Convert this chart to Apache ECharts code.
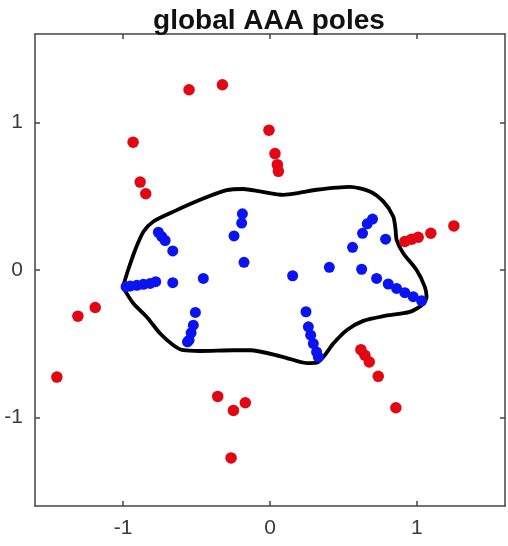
<!DOCTYPE html>
<html>
<head>
<meta charset="utf-8">
<script src="https://cdn.jsdelivr.net/npm/echarts@6/dist/echarts.min.js"></script>
<style>
html,body{margin:0;padding:0;background:#fff;}
#chart{width:508px;height:546px;}
</style>
</head>
<body>
<div id="chart"></div>
<script>
// ---- data ----
var titleText = 'global AAA poles';
var tickValues = [-1, 0, 1];
var axisMin = -1.6, axisMax = 1.6;

var redPoles = [
  [-0.551,1.222],[-0.324,1.256],[-0.007,0.948],[0.034,0.789],[0.050,0.714],[0.057,0.669],
  [-0.932,0.866],[-0.884,0.596],[-0.846,0.517],
  [1.252,0.299],[1.095,0.249],[1.009,0.222],[0.964,0.209],[0.918,0.193],
  [-1.190,-0.254],[-1.308,-0.313],[-1.451,-0.726],
  [-0.356,-0.857],[-0.168,-0.900],[-0.249,-0.952],[-0.265,-1.274],
  [0.619,-0.540],[0.646,-0.578],[0.676,-0.624],[0.737,-0.721],[0.857,-0.934]
];

var bluePoles = [
  [-0.188,0.381],[-0.193,0.318],[-0.245,0.231],[-0.177,0.052],
  [-0.454,-0.057],[-0.662,-0.086],[-0.778,-0.079],[-0.816,-0.091],[-0.862,-0.097],
  [-0.907,-0.104],[-0.952,-0.109],[-0.980,-0.113],
  [-0.760,0.256],[-0.737,0.227],[-0.714,0.200],[-0.662,0.129],
  [-0.508,-0.288],[-0.522,-0.374],[-0.537,-0.426],[-0.551,-0.476],[-0.562,-0.487],
  [0.154,-0.039],[0.404,0.018],[0.562,0.154],[0.630,0.249],[0.662,0.313],[0.698,0.345],[0.787,0.209],
  [0.624,0.005],[0.726,-0.057],[0.805,-0.095],[0.862,-0.125],[0.918,-0.154],[0.975,-0.181],[1.032,-0.209],
  [0.245,-0.283],[0.261,-0.385],[0.277,-0.442],[0.295,-0.499],[0.317,-0.556],[0.329,-0.590]
];

var contour = [
  [-1.002,-0.116],[-0.966,0.000],[-0.918,0.136],[-0.862,0.259],[-0.794,0.329],
  [-0.646,0.401],[-0.476,0.476],[-0.295,0.541],[-0.182,0.549],[-0.068,0.533],
  [0.090,0.510],[0.204,0.524],[0.318,0.544],[0.544,0.563],[0.680,0.533],
  [0.771,0.465],[0.839,0.363],[0.855,0.272],[0.862,0.204],[0.907,0.114],
  [0.998,0.000],[1.054,-0.114],[1.066,-0.182],[1.043,-0.231],[0.952,-0.284],
  [0.771,-0.313],[0.635,-0.345],[0.522,-0.408],[0.431,-0.499],[0.363,-0.590],
  [0.318,-0.628],[0.250,-0.631],[0.090,-0.590],[-0.136,-0.544],[-0.250,-0.544],
  [-0.476,-0.549],[-0.590,-0.544],[-0.658,-0.510],[-0.748,-0.431],[-0.839,-0.318],
  [-0.930,-0.227],[-1.002,-0.116]
];

// ---- chart ----
var chart = echarts.init(document.getElementById('chart'), null, {renderer:'canvas'});
var axisColor = '#444';
var fontFam = '"Liberation Sans", Arial, Helvetica, sans-serif';
function isTick(v){ return tickValues.indexOf(Math.round(v*1000)/1000) >= 0; }
function baseAxis(pos, showLabel){
  return {
    type:'value', position:pos, min:axisMin, max:axisMax, interval:0.2,
    axisLine:{show:true, onZero:false, lineStyle:{color:axisColor, width:1.5}},
    axisTick:{show:true, inside:true, length:5, lineStyle:{color:axisColor, width:1.5},
      customValues: tickValues},
    axisLabel:{show:showLabel, color:'#3a3a3a', fontSize:21, fontFamily:fontFam, margin:12,
      customValues: tickValues,
      formatter:function(v){ return isTick(v) ? String(Math.round(v)) : ''; }},
    splitLine:{show:false}
  };
}
var option = {
  backgroundColor:'#fff',
  animation:false,
  title:{
    text:titleText, left:264, top:2, textAlign:'center',
    textStyle:{fontSize:28, fontWeight:'bold', color:'#111', fontFamily:fontFam}
  },
  grid:{left:35, right:3, top:34, bottom:40, containLabel:false},
  xAxis:[ baseAxis('bottom', true), baseAxis('top', false) ],
  yAxis:[ baseAxis('left', true), baseAxis('right', false) ],
  series:[
    {type:'line', data:contour, xAxisIndex:0, yAxisIndex:0, showSymbol:false, smooth:0.25,
      lineStyle:{color:'#000', width:3.8}, z:2},
    {type:'scatter', data:redPoles, symbol:'circle', symbolSize:11.5,
      itemStyle:{color:'#e30613', opacity:1}, z:3},
    {type:'scatter', data:bluePoles, symbol:'circle', symbolSize:11,
      itemStyle:{color:'#0a14f0', opacity:1}, z:3}
  ]
};
chart.setOption(option);
</script>
</body>
</html>
